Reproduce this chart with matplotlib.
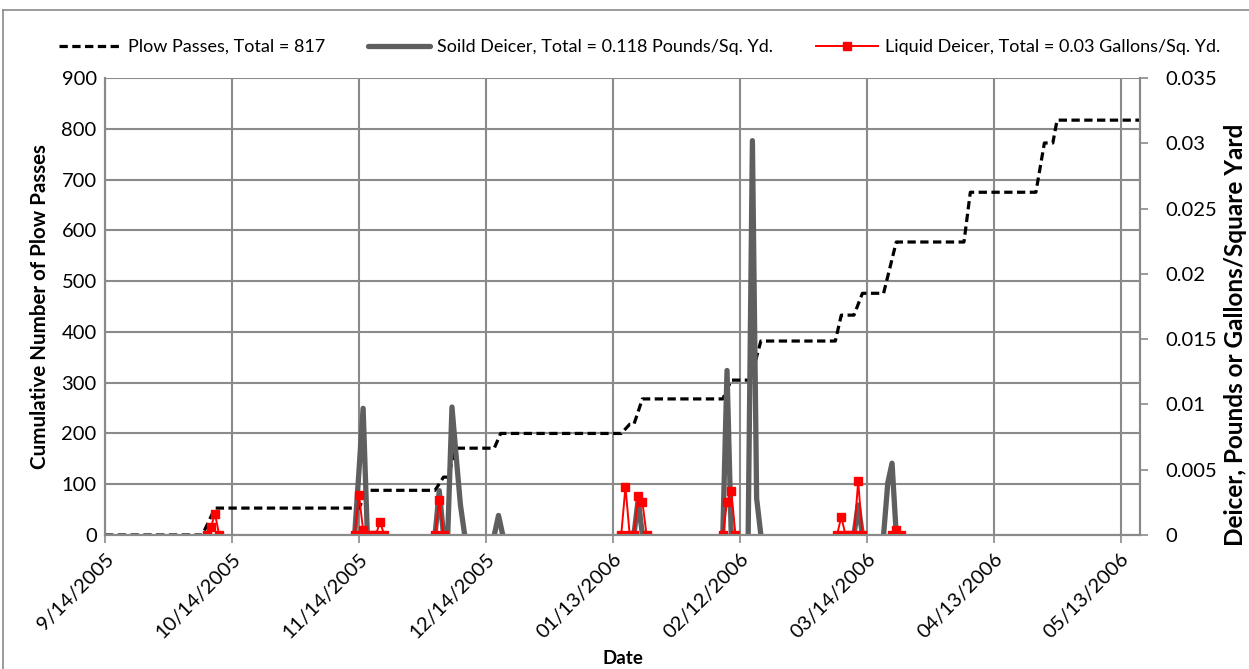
import numpy as np
import matplotlib
matplotlib.use("Agg")
import matplotlib.pyplot as plt

plt.rcParams['font.family'] = ['Lato', 'DejaVu Sans']

# x values are days after 9/14/2005
tick_days = [0, 30, 60, 90, 120, 150, 180, 210, 240]
tick_labels = ['9/14/2005', '10/14/2005', '11/14/2005', '12/14/2005', '01/13/2006',
               '02/12/2006', '03/14/2006', '04/13/2006', '05/13/2006']

# cumulative plow passes (left axis)
plow_days = [0, 23, 26, 60, 62, 78, 80, 81, 83, 92, 93.5, 122, 124, 125, 127, 146, 148,
             152.5, 155, 172.6, 174, 177, 179, 184, 187, 203, 204.5, 220, 222, 224, 225, 244.6]
plow_vals = [0, 0, 53, 53, 88, 88, 114, 114, 171, 171, 200, 200, 218, 218, 268, 268, 305,
             305, 382, 382, 433, 433, 476, 476, 577, 577, 675, 675, 772, 772, 817, 817]

# solid deicer, pounds / sq yd (right axis), nan = no entry
solid_days = [59, 60, 61, 62, np.nan,
              78, 79, 80, 81, 82, 83, 84, 85, np.nan,
              92, 93, 94, np.nan,
              125, 126, 127, np.nan,
              146, 147, 148, np.nan,
              152, 153, 154, 155, np.nan,
              177, 178, 179, np.nan,
              184, 185, 186, 187]
solid_vals = [0, 0.0048, 0.0097, 0, np.nan,
              0, 0.0034, 0, 0, 0.0098, 0.006, 0.0023, 0, np.nan,
              0, 0.0015, 0, np.nan,
              0, 0.0027, 0, np.nan,
              0, 0.0126, 0, np.nan,
              0, 0.0302, 0.0028, 0, np.nan,
              0, 0.0023, 0, np.nan,
              0, 0.004, 0.0055, 0]

# liquid deicer, gallons / sq yd (right axis)
liquid_days = [24, 25, 26, 27, np.nan,
               59, 60, 61, 62, 63, 64, 65, 66, np.nan,
               78, 79, 80, np.nan,
               122, 123, 124, 125, 126, 127, 128, np.nan,
               146, 147, 148, 149, np.nan,
               173, 174, 175, 176, 177, 178, 179, np.nan,
               186, 187, 188]
liquid_vals = [0, 0.0006, 0.0016, 0, np.nan,
               0, 0.0031, 0.0004, 0, 0, 0, 0.001, 0, np.nan,
               0, 0.0027, 0, np.nan,
               0, 0.0037, 0, 0, 0.003, 0.0025, 0, np.nan,
               0, 0.0025, 0.0034, 0, np.nan,
               0, 0.0014, 0, 0, 0, 0.0041, 0, np.nan,
               0, 0.0004, 0]

grid_c = '#8a8a8a'

fig = plt.figure(figsize=(12.49, 6.69), dpi=100)
ax = fig.add_axes([105 / 1249, 1 - 535 / 669, (1140 - 105) / 1249, (535 - 78) / 669])
ax2 = ax.twinx()

l1, = ax.plot(plow_days, plow_vals, color='black', lw=2.3, dashes=(2.6, 1.4),
              label='Plow Passes, Total = 817')
l2, = ax2.plot(solid_days, solid_vals, color='#5f5f5f', lw=3.8, solid_capstyle='round',
               solid_joinstyle='round', label='Soild Deicer, Total = 0.118 Pounds/Sq. Yd.')
l3, = ax2.plot(liquid_days, liquid_vals, color='#ff0000', lw=1.4, marker='s', ms=6,
               label='Liquid Deicer, Total = 0.03 Gallons/Sq. Yd.')

ax.set_xlim(0, 244.6)
ax.set_ylim(0, 900)
ax2.set_ylim(0, 0.035)
ax.set_yticks(range(0, 901, 100))
ax2.set_yticks([0, 0.005, 0.01, 0.015, 0.02, 0.025, 0.03, 0.035])
ax2.set_yticklabels(['0', '0.005', '0.01', '0.015', '0.02', '0.025', '0.03', '0.035'])
ax.set_xticks(tick_days)
ax.set_xticklabels(tick_labels, rotation=45, ha='right', rotation_mode='anchor')

ax.grid(True, color=grid_c, lw=1.5)
ax.set_axisbelow(True)
for a in (ax, ax2):
    for s in a.spines.values():
        s.set_color(grid_c)
        s.set_linewidth(1.5)
    a.spines['top'].set_visible(False)
    a.tick_params(colors=grid_c, labelcolor='black', labelsize=14.5, length=6, width=1.2)
ax2.tick_params(axis='y', pad=12)
ax.tick_params(axis='y', length=0, pad=6)
ax.tick_params(axis='x', pad=5)

ax.set_ylabel('Cumulative Number of Plow Passes', fontsize=14.8, fontweight='bold', labelpad=8)
ax2.set_ylabel('Deicer, Pounds or Gallons/Square Yard', fontsize=17.5, fontweight='bold')
ax2.yaxis.set_label_coords(1.081, 0.437)
ax.set_xlabel('Date', fontsize=13.5, fontweight='bold', labelpad=6)

fig.legend(handles=[l1, l2, l3], loc='center', bbox_to_anchor=(0.512, 1 - 47 / 669), ncol=3,
           frameon=False, fontsize=13, handlelength=3.4, handletextpad=0.4,
           columnspacing=2.4, markerscale=0.9)

# outer chart border
fig.add_artist(plt.Line2D([3 / 1249, 1], [1 - 10 / 669, 1 - 10 / 669], color=grid_c, lw=1.2))
fig.add_artist(plt.Line2D([3 / 1249, 3 / 1249], [0, 1 - 10 / 669], color=grid_c, lw=1.2))

fig.savefig('out.png', dpi=100)
